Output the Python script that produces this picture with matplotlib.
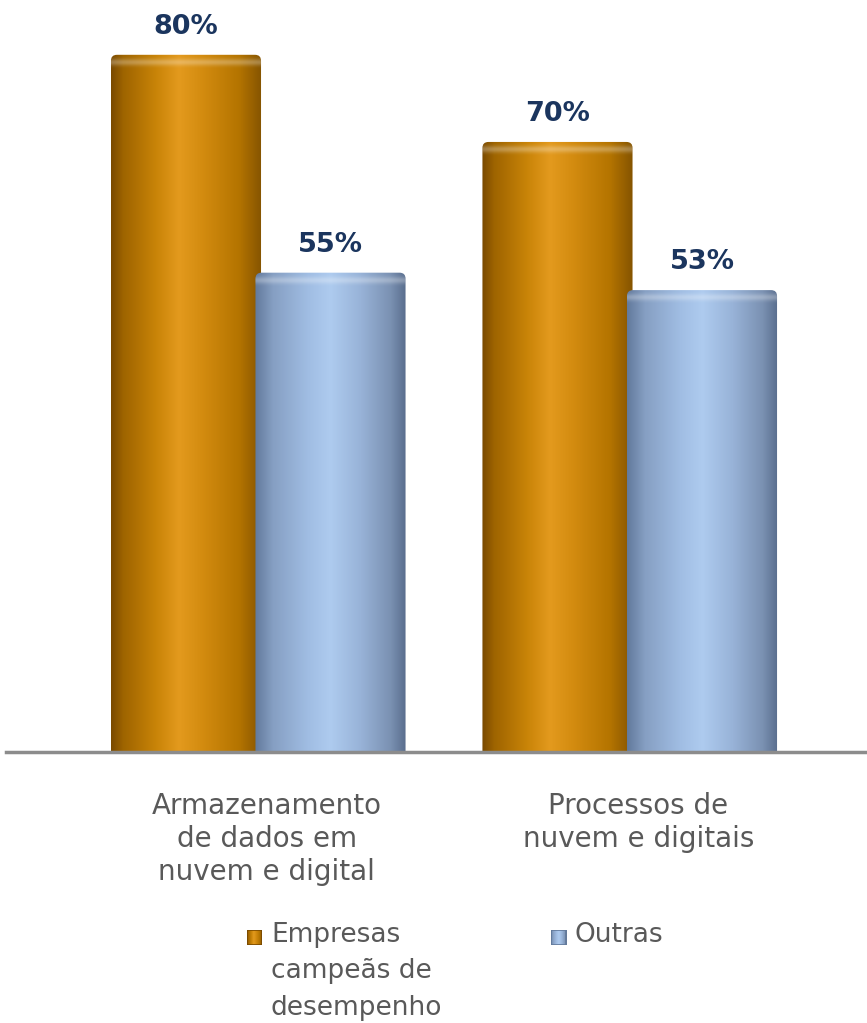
import numpy as np
import matplotlib
matplotlib.use("Agg")
import matplotlib.pyplot as plt
from matplotlib.patches import FancyBboxPatch, Rectangle
from matplotlib.colors import LinearSegmentedColormap, to_rgb

categories = ["Armazenamento\nde dados em\nnuvem e digital", "Processos de\nnuvem e digitais"]
series_names = ["Empresas\ncampeãs de\ndesempenho", "Outras"]
empresas = [80, 70]
outras = [55, 53]
value_labels_emp = ["80%", "70%"]
value_labels_out = ["55%", "53%"]

W, H = 867, 1023
fig = plt.figure(figsize=(W / 100, H / 100), dpi=100)
fig.patch.set_facecolor("white")

base_px = 752
ax = fig.add_axes([6 / W, (H - base_px) / H, (W - 6) / W, base_px / H])
px_per_unit_y = 8.715
ax.set_ylim(0, base_px / px_per_unit_y)
px_per_unit_x = 371.5
ax.set_xlim(-(257.5 - 6) / px_per_unit_x, 1 + (867 - 629) / px_per_unit_x)

orange_stops = [(0.0, "#7a4a00"), (0.08, "#9e6400"), (0.3, "#c98408"),
                (0.45, "#e39a1e"), (0.6, "#d48c10"), (0.85, "#b47400"), (1.0, "#855400")]
blue_stops = [(0.0, "#627a9c"), (0.12, "#869fc3"), (0.35, "#a0bde3"),
              (0.5, "#aecbef"), (0.7, "#98b3d8"), (0.9, "#7a91b2"), (1.0, "#5a6e8e")]


def grad_array(stops, n=256):
    cmap = LinearSegmentedColormap.from_list("g", [(p, to_rgb(c)) for p, c in stops])
    return cmap(np.linspace(0, 1, n))[:, :3][None, :, :]


width = 0.404
offsets = [-0.1925, 0.1965]
rx = 6 / px_per_unit_x
ry = 6 / px_per_unit_y

label_color = "#1b355e"


def draw_bar(xc, val, stops, label):
    x0, x1 = xc - width / 2, xc + width / 2
    patch = FancyBboxPatch((x0, -3), width, val + 3,
                           boxstyle=f"round,pad=0,rounding_size={rx}",
                           mutation_aspect=ry / rx,
                           facecolor="none", edgecolor="none", zorder=2)
    ax.add_patch(patch)
    im = ax.imshow(grad_array(stops), extent=(x0, x1, -3, val), aspect="auto",
                   zorder=2, interpolation="bilinear")
    im.set_clip_path(patch)
    # top highlight band
    band = np.zeros((40, 1, 4))
    t = np.linspace(0, 1, 40)
    band[:, 0, :3] = 1.0
    band[:, 0, 3] = 0.28 * np.exp(-((t - 0.45) / 0.22) ** 2)
    hh = 16 / px_per_unit_y
    im2 = ax.imshow(band, extent=(x0, x1, val - hh, val), aspect="auto",
                    zorder=3, interpolation="bilinear")
    im2.set_clip_path(patch)
    ax.annotate(label, (xc, val), xytext=(0, 15), textcoords="offset points",
                ha="center", va="baseline", fontsize=19.5, fontweight="bold",
                color=label_color, zorder=5)


x = np.arange(len(categories))
for i in range(len(categories)):
    draw_bar(x[i] + offsets[0], empresas[i], orange_stops, value_labels_emp[i])
    draw_bar(x[i] + offsets[1], outras[i], blue_stops, value_labels_out[i])

for s in ["top", "right", "left"]:
    ax.spines[s].set_visible(False)
ax.spines["bottom"].set_color("#8c8c8c")
ax.spines["bottom"].set_linewidth(2.5)
ax.spines["bottom"].set_zorder(4)
ax.set_yticks([])
ax.set_xticks(x + 0.025)
ax.set_xticklabels(categories, fontsize=20, color="#595959", linespacing=1.22)
ax.tick_params(axis="x", length=0, pad=29)
ax.set_facecolor("none")

# legend
leg_items = [(247, series_names[0], orange_stops), (551, series_names[1], blue_stops)]
for xpx, name, stops in leg_items:
    mx0 = xpx / W
    my0 = (H - 945) / H
    lax = fig.add_axes([mx0, my0, 15 / W, 15 / H])
    g = grad_array(stops)
    lax.imshow(g, aspect="auto", extent=(0, 1, 0, 1), interpolation="bilinear")
    lax.add_patch(Rectangle((0, 0), 1, 1, fill=False, edgecolor=stops[0][1], linewidth=1.2))
    lax.set_axis_off()
    fig.text((xpx + 24) / W, (H - 922) / H, name, ha="left", va="top",
             fontsize=19, color="#595959", linespacing=1.52)

fig.savefig("out.png", dpi=100, facecolor="white")
